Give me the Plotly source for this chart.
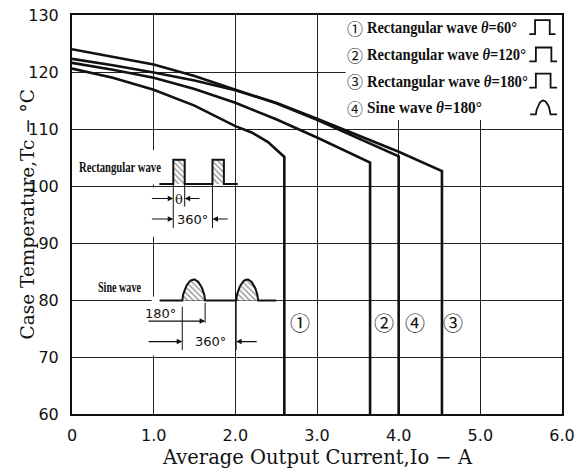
import json
import numpy as np
import plotly.graph_objects as go

# ---- curve data (Average output current [A], Case temperature [degC]) ----
x1 = [0, 0.5, 1.0, 1.5, 2.0, 2.2, 2.4, 2.6, 2.6]
y1 = [120.6, 119.0, 116.9, 114.1, 110.5, 109.4, 107.7, 105.1, 60]
x2 = [0, 0.5, 1.0, 1.5, 2.0, 2.5, 3.0, 3.3, 3.65, 3.65]
y2 = [121.6, 120.4, 119.0, 117.0, 114.6, 111.7, 108.5, 106.5, 104.1, 60]
x3 = [0, 0.5, 1.0, 1.5, 2.0, 2.5, 3.0, 3.5, 4.0, 4.53, 4.53]
y3 = [122.3, 121.2, 119.9, 118.5, 116.8, 114.6, 111.8, 108.9, 106.0, 102.6, 60]
x4 = [0, 0.5, 1.0, 1.5, 2.0, 2.5, 3.0, 3.5, 4.0, 4.0]
y4 = [124.0, 122.7, 121.3, 119.3, 116.9, 114.5, 111.6, 108.4, 105.2, 60]

curve_labels = ["①", "②", "④", "③"]
curve_label_x = [2.79, 3.82, 4.20, 4.67]
curve_label_y = 76.0

legend_rows = ["Rectangular wave <i>θ</i>=60°", "Rectangular wave <i>θ</i>=120°",
               "Rectangular wave <i>θ</i>=180°", "Sine wave <i>θ</i>=180°"]
legend_plain = ["Rectangular wave θ=60°", "Rectangular wave θ=120°",
                "Rectangular wave θ=180°", "Sine wave θ=180°"]
legend_text_px = [150, 159, 161, 115]
legend_marks = ["①", "②", "③", "④"]
legend_row_y = [127.8, 123.0, 118.4, 113.7]
legend_mark_x = 3.465
legend_text_x = 3.595
legend_icon_x = [[5.60, 5.67, 5.85, 5.92], [5.60, 5.68, 5.87, 5.94],
                 [5.60, 5.68, 5.86, 5.94], [5.61, 5.68, 5.86, 5.94]]

x_tickvals = [0, 1, 2, 3, 4, 5, 6]
x_ticktext = ["0", "1.0", "2.0", "3.0", "4.0", "5.0", "6.0"]
y_tickvals = [60, 70, 80, 90, 100, 110, 120, 130]
y_ticktext = ["60", "70", "80", "90", "100", "110", "120", "130"]

# ---- inset waveform sketch ----
rect_base, rect_top = 100.35, 104.6
rect_span = (1.07, 2.03)
rect_pulses = [(1.24, 1.38), (1.72, 1.86)]
sine_base, sine_peak = 79.9, 83.6
sine_span = (1.076, 2.50)
sine_humps = [(1.35, 1.63), (2.01, 2.28)]

BLACK = "#111111"
TIMES = "Liberation Serif, serif"
SERIF = "DejaVu Serif, Liberation Serif, serif"
SANS = "DejaVu Sans, Liberation Sans, sans-serif"
CJK = "Noto Sans CJK JP"

fig = go.Figure()

for xs, ys in [(x1, y1), (x2, y2), (x3, y3), (x4, y4)]:
    fig.add_trace(go.Scatter(x=xs, y=ys, mode="lines",
                             line=dict(color=BLACK, width=2.6),
                             showlegend=False, hoverinfo="skip"))

# rectangular wave
rx, ry = [rect_span[0]], [rect_base]
for a, b in rect_pulses:
    rx += [a, a, b, b]
    ry += [rect_base, rect_top, rect_top, rect_base]
    fig.add_trace(go.Scatter(x=[a, a, b, b, a], y=[rect_base, rect_top, rect_top, rect_base, rect_base],
                             mode="lines", fill="toself", line=dict(width=0),
                             fillpattern=dict(shape="\\", fgcolor=BLACK, bgcolor="white", size=4, solidity=0.3),
                             showlegend=False, hoverinfo="skip"))
rx.append(rect_span[1]); ry.append(rect_base)
fig.add_trace(go.Scatter(x=rx, y=ry, mode="lines", line=dict(color=BLACK, width=2),
                         showlegend=False, hoverinfo="skip"))

# sine wave
sx, sy = [sine_span[0]], [sine_base]
for a, b in sine_humps:
    t = np.linspace(0, 1, 25)
    hx = a + (b - a) * t
    hy = sine_base + (sine_peak - sine_base) * np.sin(np.pi * t) ** 0.6
    fig.add_trace(go.Scatter(x=list(hx) + [a], y=list(hy) + [sine_base],
                             mode="lines", fill="toself", line=dict(width=0),
                             fillpattern=dict(shape="\\", fgcolor=BLACK, bgcolor="white", size=4, solidity=0.3),
                             showlegend=False, hoverinfo="skip"))
    sx += list(hx); sy += list(hy)
sx.append(sine_span[1]); sy.append(sine_base)
fig.add_trace(go.Scatter(x=sx, y=sy, mode="lines", line=dict(color=BLACK, width=2),
                         showlegend=False, hoverinfo="skip"))

# legend icons
for i, (ry_, ix) in enumerate(zip(legend_row_y, legend_icon_x)):
    base, top = ry_ - 1.15, ry_ + 1.3
    if i < 3:
        ixs = [ix[0], ix[1], ix[1], ix[2], ix[2], ix[3]]
        iys = [base, base, top, top, base, base]
    else:
        t = np.linspace(0, 1, 21)
        hx = ix[1] + (ix[2] - ix[1]) * t
        hy = base + (top - base) * np.sin(np.pi * t) ** 0.6
        ixs = [ix[0]] + list(hx) + [ix[3]]
        iys = [base] + list(hy) + [base]
    fig.add_trace(go.Scatter(x=ixs, y=iys, mode="lines", line=dict(color=BLACK, width=1.8),
                             showlegend=False, hoverinfo="skip"))

shapes = []
# white masks (legend box, gaps in 1.0 gridline behind the sketch)
for (x0, x1_, y0, y1_) in [(3.35, 6.0, 111.6, 130), (0.975, 1.025, 100.25, 106.3),
                           (0.975, 1.025, 91.1, 99.75), (0.975, 1.07, 70.25, 80.6)]:
    shapes.append(dict(type="rect", xref="x", yref="y", x0=x0, x1=x1_, y0=y0, y1=y1_,
                       fillcolor="white", line=dict(width=0), layer="between"))
# extension lines of the dimension marks
for (xx, ya, yb) in [(rect_pulses[0][0], 92.6, rect_base), (rect_pulses[0][1], 96.4, rect_base),
                     (rect_pulses[1][0], 92.6, rect_base),
                     (sine_humps[0][0], 71.2, 78.8), (sine_humps[0][1], 76.0, 79.5),
                     (sine_humps[1][0], 71.2, 80.0)]:
    shapes.append(dict(type="line", xref="x", yref="y", x0=xx, x1=xx, y0=ya, y1=yb,
                       line=dict(color=BLACK, width=1)))

ann = []
def arrow(x_tail, x_head, yy):
    ann.append(dict(x=x_head, y=yy, ax=x_tail, ay=yy, xref="x", yref="y", axref="x", ayref="y",
                    text="", showarrow=True, arrowhead=2, arrowsize=1, arrowwidth=1.1, arrowcolor=BLACK))

arrow(0.96, rect_pulses[0][0], 97.8)
arrow(1.58, rect_pulses[0][1], 97.8)
arrow(0.96, rect_pulses[0][0], 94.2)
arrow(1.925, rect_pulses[1][0], 94.2)
arrow(0.92, sine_humps[0][1], 76.3)
arrow(0.92, sine_humps[0][0], 72.7)
arrow(2.28, sine_humps[1][0], 72.7)

def label(x, y, text, family, size, xanchor="center", bg=None, weight="normal", align="center"):
    d = dict(x=x, y=y, xref="x", yref="y", text=text, showarrow=False, xanchor=xanchor,
             yanchor="middle", align=align, borderpad=0,
             font=dict(family=family, size=size, color=BLACK, weight=weight))
    if bg:
        d["bgcolor"] = bg
    ann.append(d)

label(0.076, 103.2, "Rectangular wave", TIMES, 14, xanchor="left", weight="bold", align="left")
label(0.305, 82.2, "Sine wave", TIMES, 14, xanchor="left", weight="bold", align="left")
label(1.31, 97.6, "θ", SERIF, 13, bg="white")
label(1.47, 94.1, "360°", SANS, 13)
label(1.085, 77.6, "180°", SANS, 13)
label(1.69, 72.8, "360°", SANS, 13)

for t, xx in zip(curve_labels, curve_label_x):
    label(xx, curve_label_y, t, CJK, 20)

for mark, txt, yy in zip(legend_marks, legend_rows, legend_row_y):
    label(legend_mark_x, yy, mark, CJK, 16)
    label(legend_text_x, yy, txt, TIMES, 17, xanchor="left", weight="bold", align="left")

# axis titles
ann.append(dict(x=0.5, y=0, xref="paper", yref="paper", yshift=-43, yanchor="middle",
                text="Average Output Current,Io − A", showarrow=False,
                font=dict(family=SERIF, size=19.5, color=BLACK)))
ann.append(dict(x=0, y=0.5, xref="paper", yref="paper", xshift=-45, xanchor="center",
                text="Case Temperature,Tc − °C", showarrow=False, textangle=-90,
                font=dict(family=SERIF, size=18.5, color=BLACK)))

fig.update_layout(
    width=576, height=470,
    margin=dict(l=72, r=14, t=15, b=56, autoexpand=False),
    paper_bgcolor="white", plot_bgcolor="white",
    shapes=shapes, annotations=ann, showlegend=False,
    xaxis=dict(range=[0, 6], tickvals=x_tickvals, ticktext=x_ticktext, automargin=False,
               showgrid=True, gridcolor="#222222", gridwidth=1,
               showline=True, mirror=True, linecolor=BLACK, linewidth=2,
               zeroline=False, ticks="", ticklabelstandoff=6,
               tickfont=dict(family=SANS, size=16, color=BLACK)),
    yaxis=dict(range=[60, 130], tickvals=y_tickvals, ticktext=y_ticktext, automargin=False,
               showgrid=True, gridcolor="#222222", gridwidth=1,
               showline=True, mirror=True, linecolor=BLACK, linewidth=2,
               zeroline=False, ticks="", ticklabelstandoff=8,
               tickfont=dict(family=SANS, size=16, color=BLACK)),
)

# condense the narrow bold labels horizontally (the reference uses a condensed face)
fit_map = dict(zip(legend_plain, legend_text_px))
fit_map["Rectangular wave"] = 82
fit_map["Sine wave"] = 43
post = """
document.documentElement.style.margin = '0';
document.body.style.margin = '0';
document.body.style.padding = '0';
document.body.style.overflow = 'hidden';
var gd = document.getElementById('{plot_id}');
var FIT = %s;
function fitText() {
  gd.querySelectorAll('text.annotation-text').forEach(function (t) {
    var L = FIT[t.textContent];
    if (!L || t.getAttribute('data-fit')) return;
    var w = t.getComputedTextLength();
    if (!w) return;
    var s = L / w;
    var bb = t.getBBox();
    var x0 = bb.x;
    var prev = t.getAttribute('transform') || '';
    t.setAttribute('transform', prev + ' translate(' + (x0 * (1 - s)) + ',0) scale(' + s + ',1)');
    t.setAttribute('data-fit', '1');
    var g = t.parentNode;
    var r = g && g.querySelector('rect.bg');
    if (r) { r.setAttribute('width', L); }
  });
}
fitText();
gd.on('plotly_afterplot', fitText);
""" % json.dumps(fit_map)

fig.write_html("out.html", post_script=post,
               config={"displayModeBar": False, "staticPlot": True})
